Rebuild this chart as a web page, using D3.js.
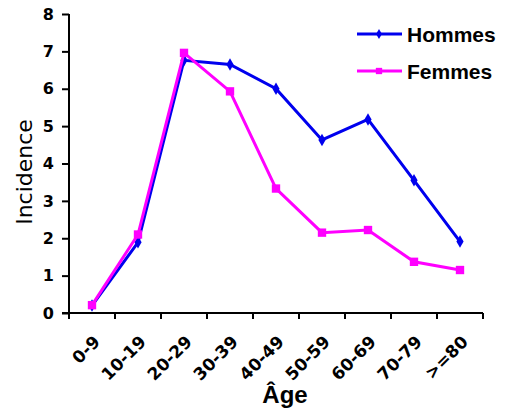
<!DOCTYPE html>
<html><head><meta charset="utf-8">
<script src="https://cdn.jsdelivr.net/npm/d3@7"></script>
<style>body{margin:0;background:#fff}svg{display:block}</style>
</head><body><svg id="c" width="505" height="416"></svg>
<script>
const categories = ["0-9","10-19","20-29","30-39","40-49","50-59","60-69","70-79",">=80"];
const hommes = [0.2,1.89,6.76,6.65,6.0,4.63,5.18,3.55,1.91];
const femmes = [0.21,2.1,6.96,5.93,3.33,2.15,2.22,1.37,1.15];
const yTicks = [0,1,2,3,4,5,6,7,8];
const seriesNames = ["Hommes","Femmes"];
const colors = ["#0000ee","#ff00ff"];

const DJ = "'DejaVu Sans',Verdana,sans-serif";
const LS = "'Liberation Sans',Arial,sans-serif";
const svg = d3.select("#c");
const L=69, R=483, T=14, B=313;
const x = d3.scaleBand().domain(categories).range([L,R]);
const y = d3.scaleLinear().domain([0,8]).range([B,T]);

// y axis
const ya = svg.append("g").attr("transform",`translate(${L},0)`)
  .call(d3.axisLeft(y).tickValues(yTicks).tickSize(7).tickPadding(8).tickFormat(d3.format("d")));
ya.select(".domain").attr("stroke","#000").attr("stroke-width",2).attr("d",`M0,${T}V${B}`);
ya.selectAll(".tick line").attr("stroke","#000").attr("stroke-width",2);
ya.selectAll("text").style("font-size","16px").style("font-weight","bold").attr("fill","#000")
  .style("font-family",DJ);

// x axis
const xa = svg.append("g").attr("transform",`translate(0,${B})`)
  .call(d3.axisBottom(x).tickSize(0).tickFormat(""));
xa.select(".domain").attr("stroke","#000").attr("stroke-width",2).attr("d",`M${L-7},0H${R}`);
const edges = categories.map(c=>x(c)).concat([R]);
xa.selectAll(".edge").data(edges).enter().append("line")
  .attr("x1",d=>d).attr("x2",d=>d).attr("y1",0).attr("y2",6)
  .attr("stroke","#000").attr("stroke-width",2);
xa.selectAll(".lbl").data(categories).enter().append("text")
  .attr("transform",d=>`translate(${x(d)+x.bandwidth()/2+9},30) rotate(-45)`)
  .attr("text-anchor","end")
  .style("font-family",DJ).style("font-size","17px").style("font-weight","bold")
  .attr("fill","#000").text(d=>d);

// axis titles
svg.append("text").attr("transform","translate(32,172) rotate(-90)").attr("text-anchor","middle")
  .style("font-family",DJ).style("font-size","22px").text("Incidence");
svg.append("text").attr("x",285).attr("y",403).attr("text-anchor","middle")
  .style("font-family",LS).style("font-size","24px").style("font-weight","bold").text("Âge");

const cx = d=>x(d)+x.bandwidth()/2;
const line = d3.line().x((d,i)=>cx(categories[i])).y(d=>y(d));

const data=[hommes,femmes];
const sym=[d3.symbolDiamond,d3.symbolSquare];
const sz=[45,70];
data.forEach((vals,k)=>{
  svg.append("path").attr("d",line(vals)).attr("fill","none").attr("stroke",colors[k]).attr("stroke-width",3);
  svg.selectAll(".m"+k).data(vals).enter().append("path")
    .attr("transform",(d,i)=>`translate(${cx(categories[i])},${y(d)})`)
    .attr("d",d3.symbol().type(sym[k]).size(sz[k])).attr("fill",colors[k]);
});

// legend
const ly=[34,71];
seriesNames.forEach((n,k)=>{
  svg.append("line").attr("x1",357).attr("x2",402).attr("y1",ly[k]).attr("y2",ly[k])
    .attr("stroke",colors[k]).attr("stroke-width",3);
  svg.append("path").attr("transform",`translate(379,${ly[k]})`)
    .attr("d",d3.symbol().type(sym[k]).size(k?40:30)).attr("fill",colors[k]);
  svg.append("text").attr("x",407).attr("y",ly[k]+8)
    .style("font-family",LS).style("font-size","21px").style("font-weight","bold").text(n);
});
</script></body></html>
